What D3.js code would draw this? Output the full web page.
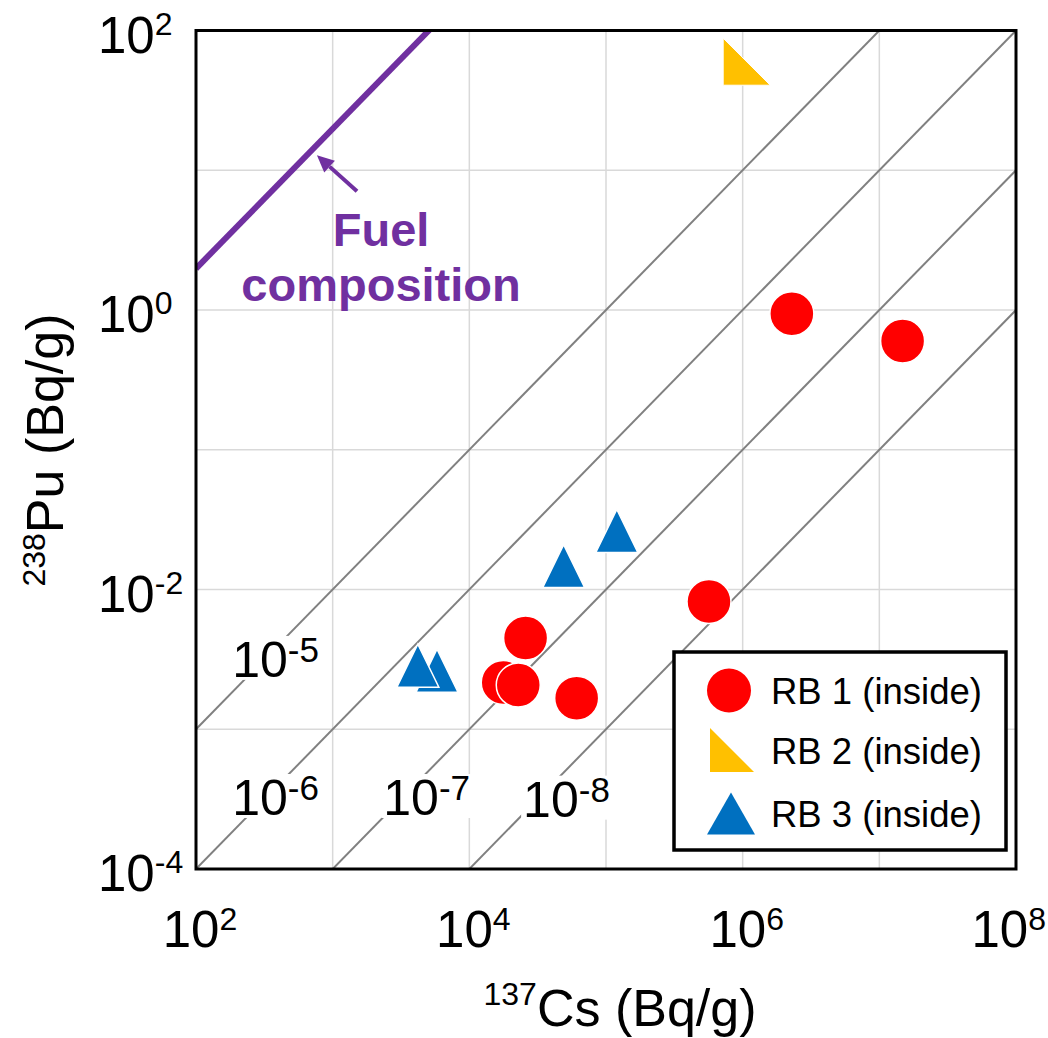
<!DOCTYPE html>
<html>
<head>
<meta charset="utf-8">
<script src="https://cdn.jsdelivr.net/npm/d3@7"></script>
<style>
  body { margin: 0; background: #fff; }
  svg text { font-family: "Liberation Sans", Arial, sans-serif; }
</style>
</head>
<body>
<div id="chart"></div>
<script>
// ---- data ----
var rb1Cs = [2.29e6, 1.48e7, 5.67e5, 2.58e4, 1.77e4, 2.28e4, 6.1e4];
var rb1Pu = [0.94, 0.60, 8.2e-3, 4.5e-3, 2.16e-3, 2.07e-3, 1.67e-3];
var rb2Cs = [1.07e6];
var rb2Pu = [59.8];
var rb3Cs = [1.2e5, 4.9e4, 5.8e3, 4.2e3];
var rb3Pu = [0.0262, 0.0147, 2.62e-3, 2.85e-3];

var ratios = [1e-5, 1e-6, 1e-7, 1e-8];
var ratioExp = ["-5", "-6", "-7", "-8"];
var ratioLabelCs = [382, 382, 4875, 51400];
var ratioLabelPu = [3.24e-3, 3.33e-4, 3.33e-4, 3.24e-4];

var fuelRatio = 0.0198;
var fuelArrowFrom = [1507, 7.08];
var fuelArrowTo = [767, 12.8];
var fuelLabelAt = [2260, 2.86];

var xTicks = [1e2, 1e4, 1e6, 1e8];
var yTicks = [1e-4, 1e-2, 1e0, 1e2];
var xGrid = [1e3, 1e4, 1e5, 1e6, 1e7];
var yGrid = [1e-3, 1e-2, 1e-1, 1e0, 1e1];

var seriesNames = ["RB 1 (inside)", "RB 2 (inside)", "RB 3 (inside)"];

// ---- layout ----
var width = 1048, height = 1038;
var pLeft = 196, pRight = 1016, pTop = 30.5, pBottom = 869;
var red = "#FF0000", yellow = "#FFC000", blue = "#0070C0", purple = "#7030A0";

var svg = d3.select("#chart").append("svg")
  .attr("width", width)
  .attr("height", height);

var x = d3.scaleLog().domain([1e2, 1e8]).range([pLeft, pRight]);
var y = d3.scaleLog().domain([1e-4, 1e2]).range([pBottom, pTop]);

svg.append("clipPath").attr("id", "plotclip")
  .append("rect")
  .attr("x", pLeft).attr("y", pTop)
  .attr("width", pRight - pLeft).attr("height", pBottom - pTop);

// grid
var grid = svg.append("g");
grid.selectAll("line.gx").data(xGrid).enter().append("line")
  .attr("class", "gx")
  .attr("x1", d => x(d)).attr("x2", d => x(d))
  .attr("y1", pTop).attr("y2", pBottom)
  .attr("stroke", "#d9d9d9").attr("stroke-width", 1.5);
grid.selectAll("line.gy").data(yGrid).enter().append("line")
  .attr("class", "gy")
  .attr("y1", d => y(d)).attr("y2", d => y(d))
  .attr("x1", pLeft).attr("x2", pRight)
  .attr("stroke", "#d9d9d9").attr("stroke-width", 1.5);

// ratio lines Pu/Cs = r
var plot = svg.append("g").attr("clip-path", "url(#plotclip)");
plot.selectAll("line.ratio").data(ratios).enter().append("line")
  .attr("class", "ratio")
  .attr("x1", r => x(1e2)).attr("y1", r => y(1e2 * r))
  .attr("x2", r => x(1e8)).attr("y2", r => y(1e8 * r))
  .attr("stroke", "#808080").attr("stroke-width", 2);

// ratio labels with white boxes
ratios.forEach(function(r, i) {
  var g = svg.append("g");
  var bx = x(ratioLabelCs[i]);
  var by = y(ratioLabelPu[i]) + 19;
  var box = g.append("rect").attr("fill", "#fff");
  var t = g.append("text")
    .attr("x", bx).attr("y", by)
    .attr("text-anchor", "middle")
    .attr("font-size", 50).attr("fill", "#000");
  t.append("tspan").text("10");
  t.append("tspan").attr("font-size", 35).attr("dy", -15).text(ratioExp[i]);
  var bb = t.node().getBBox();
  box.attr("x", bb.x - 2).attr("width", bb.width + 4)
    .attr("y", by - 41).attr("height", 44);
});

// fuel composition line
plot.append("line")
  .attr("x1", x(1e2)).attr("y1", y(1e2 * fuelRatio))
  .attr("x2", x(1e8)).attr("y2", y(1e8 * fuelRatio))
  .attr("stroke", purple).attr("stroke-width", 6);

// arrow
var ax0 = x(fuelArrowFrom[0]), ay0 = y(fuelArrowFrom[1]);
var ax1 = x(fuelArrowTo[0]), ay1 = y(fuelArrowTo[1]);
var ang = Math.atan2(ay1 - ay0, ax1 - ax0);
var headLen = 17, headW = 8;
var hx = ax1 - headLen * Math.cos(ang), hy = ay1 - headLen * Math.sin(ang);
svg.append("line")
  .attr("x1", ax0).attr("y1", ay0).attr("x2", hx).attr("y2", hy)
  .attr("stroke", purple).attr("stroke-width", 4);
svg.append("path")
  .attr("d", "M" + ax1 + "," + ay1 +
    "L" + (hx + headW * Math.sin(ang)) + "," + (hy - headW * Math.cos(ang)) +
    "L" + (hx - headW * Math.sin(ang)) + "," + (hy + headW * Math.cos(ang)) + "Z")
  .attr("fill", purple);

var fuelText = svg.append("text")
  .attr("x", x(fuelLabelAt[0])).attr("y", y(fuelLabelAt[1]))
  .attr("text-anchor", "middle")
  .attr("font-size", 47).attr("font-weight", "bold").attr("fill", purple);
fuelText.append("tspan").attr("x", x(fuelLabelAt[0])).text("Fuel");
fuelText.append("tspan").attr("x", x(fuelLabelAt[0])).attr("dy", 55).text("composition");

// markers
var triUp = "M0,-21.5L21,21.5L-21,21.5Z";
var triRight = "M-23.5,-23.5L-23.5,23.5L23.5,23.5Z";

var rb1 = rb1Cs.map((c, i) => [c, rb1Pu[i]]);
var rb2 = rb2Cs.map((c, i) => [c, rb2Pu[i]]);
var rb3 = rb3Cs.map((c, i) => [c, rb3Pu[i]]);

svg.append("g").selectAll("path").data(rb2).enter().append("path")
  .attr("d", triRight)
  .attr("transform", d => "translate(" + x(d[0]) + "," + y(d[1]) + ")")
  .attr("fill", yellow).attr("stroke", "#fff").attr("stroke-width", 1);

svg.append("g").selectAll("path").data(rb3).enter().append("path")
  .attr("d", triUp)
  .attr("transform", d => "translate(" + x(d[0]) + "," + y(d[1]) + ")")
  .attr("fill", blue).attr("stroke", "#fff").attr("stroke-width", 1.5);

svg.append("g").selectAll("circle").data(rb1).enter().append("circle")
  .attr("cx", d => x(d[0])).attr("cy", d => y(d[1])).attr("r", 22)
  .attr("fill", red).attr("stroke", "#fff").attr("stroke-width", 1.5);

// frame
svg.append("rect")
  .attr("x", pLeft).attr("y", pTop)
  .attr("width", pRight - pLeft).attr("height", pBottom - pTop)
  .attr("fill", "none").attr("stroke", "#000").attr("stroke-width", 3);

// tick labels
var xl = svg.append("g");
xTicks.forEach(function(v) {
  var t = xl.append("text")
    .attr("x", x(v) + 4).attr("y", 947)
    .attr("text-anchor", "middle")
    .attr("font-size", 51).attr("fill", "#000");
  t.append("tspan").text("10");
  t.append("tspan").attr("font-size", 32).attr("dy", -17).text(Math.round(Math.log10(v)));
  var bb = t.node().getBBox();
  if (bb.x + bb.width > 1046) t.attr("x", x(v) + 4 - (bb.x + bb.width - 1046));
});

var yl = svg.append("g");
yTicks.forEach(function(v) {
  var t = yl.append("text")
    .attr("x", 98).attr("y", y(v) + 22)
    .attr("text-anchor", "start")
    .attr("font-size", 51).attr("fill", "#000");
  t.append("tspan").text("10");
  t.append("tspan").attr("font-size", 32).attr("dy", -18).text(Math.round(Math.log10(v)));
});

// axis titles
var xt = svg.append("text")
  .attr("x", 620).attr("y", 1026)
  .attr("text-anchor", "middle")
  .attr("font-size", 52).attr("fill", "#000");
xt.append("tspan").attr("font-size", 32).attr("dy", -21).text("137");
xt.append("tspan").attr("dy", 21).text("Cs (Bq/g)");

var yt = svg.append("text")
  .attr("transform", "translate(63,450) rotate(-90)")
  .attr("text-anchor", "middle")
  .attr("font-size", 52).attr("fill", "#000");
yt.append("tspan").attr("font-size", 32).attr("dy", -18).text("238");
yt.append("tspan").attr("dy", 18).text("Pu (Bq/g)");

// legend
var lg = svg.append("g");
lg.append("rect")
  .attr("x", 674).attr("y", 652).attr("width", 332).attr("height", 198)
  .attr("fill", "#fff").attr("stroke", "#000").attr("stroke-width", 3.5);
var rowY = [690.5, 750, 813.5];
lg.append("circle").attr("cx", 729).attr("cy", rowY[0]).attr("r", 22).attr("fill", red);
lg.append("path").attr("d", "M-22,-22L-22,22L22,22Z")
  .attr("transform", "translate(732," + rowY[1] + ")").attr("fill", yellow);
lg.append("path").attr("d", "M0,-21L24,21L-24,21Z")
  .attr("transform", "translate(731," + rowY[2] + ")").attr("fill", blue);
lg.selectAll("text").data(seriesNames).enter().append("text")
  .attr("x", 771).attr("y", (d, i) => rowY[i] + 13.5)
  .attr("font-size", 36.5).attr("fill", "#000")
  .text(d => d);
</script>
</body>
</html>
